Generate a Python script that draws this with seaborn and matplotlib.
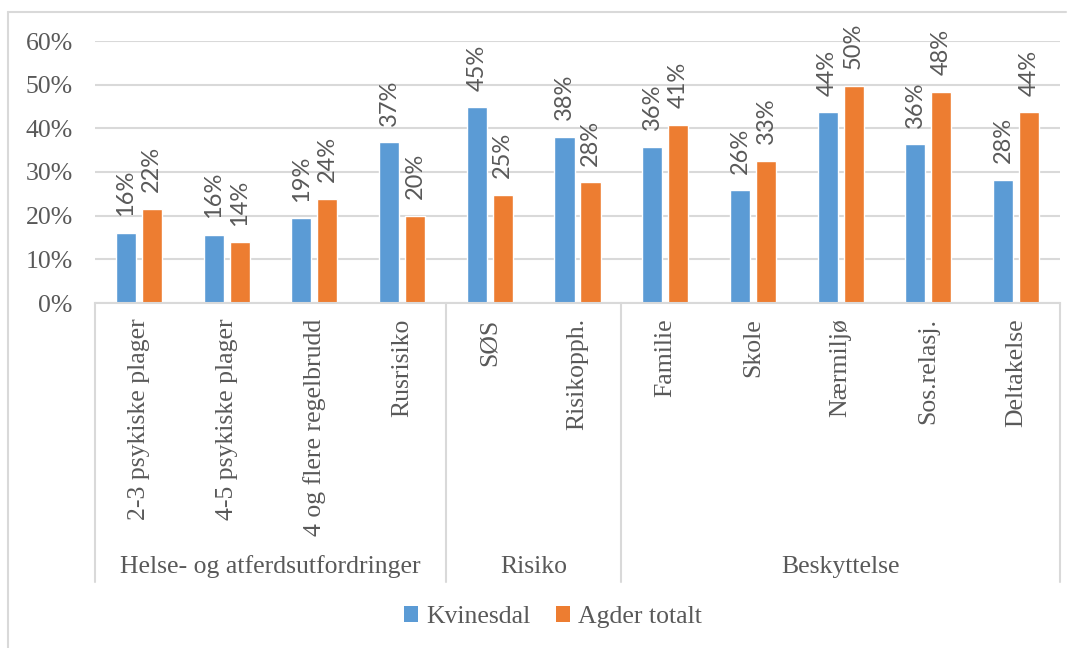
import matplotlib
matplotlib.use("Agg")
import matplotlib.pyplot as plt
import matplotlib.ticker as mticker
from matplotlib.lines import Line2D
from matplotlib.patches import Patch
import seaborn as sns
import pandas as pd

categories = ["2-3 psykiske plager", "4-5 psykiske plager", "4 og flere regelbrudd", "Rusrisiko",
              "SØS", "Risikopph.",
              "Familie", "Skole", "Nærmiljø", "Sos.relasj.", "Deltakelse"]
groups = ["Helse- og atferdsutfordringer", "Risiko", "Beskyttelse"]
group_sizes = [4, 2, 5]
series = ["Kvinesdal", "Agder totalt"]
kvinesdal = [16.0, 15.6, 19.4, 36.8, 44.8, 38.1, 35.8, 25.8, 43.7, 36.3, 28.2]
agder = [21.5, 13.9, 23.9, 20.0, 24.8, 27.6, 40.8, 32.6, 49.7, 48.4, 43.7]
yticks = [0, 10, 20, 30, 40, 50, 60]

colors = ["#5B9BD5", "#ED7D31"]
text_color = "#595959"
line_color = "#D9D9D9"
FS = 18.5

df = pd.DataFrame({
    "category": categories * 2,
    "series": [series[0]] * len(categories) + [series[1]] * len(categories),
    "value": kvinesdal + agder,
})

sns.set_theme(style="white")
plt.rcParams["font.family"] = ["Liberation Serif", "DejaVu Serif"]

W, H = 1074, 648
fig = plt.figure(figsize=(W / 100, H / 100), dpi=100)
ax_l, ax_r, ax_t, ax_b = 95, 1060, 41, 303
ax = fig.add_axes([ax_l / W, 1 - ax_b / H, (ax_r - ax_l) / W, (ax_b - ax_t) / H])

sns.barplot(data=df, x="category", y="value", hue="series", order=categories,
            hue_order=series, palette=colors, width=0.593, gap=0.23,
            saturation=1, legend=False, ax=ax, errorbar=None)

ax.set_xlim(-0.5, len(categories) - 0.5)
ax.set_ylim(0, 60)
ax.set_yticks(yticks)
ax.yaxis.set_major_formatter(mticker.FuncFormatter(lambda v, p: f"{v:.0f}%"))
ax.grid(axis="y", color=line_color, linewidth=1.5)
ax.set_axisbelow(True)
for s in ["top", "right", "left"]:
    ax.spines[s].set_visible(False)
ax.spines["bottom"].set_color(line_color)
ax.spines["bottom"].set_linewidth(1.5)
ax.set_xlabel("")
ax.set_ylabel("")
ax.tick_params(axis="y", length=0, pad=16, labelsize=FS, labelcolor=text_color)
ax.tick_params(axis="x", length=0, pad=11, labelsize=FS, labelcolor=text_color)
ax.set_xticks(range(len(categories)))
ax.set_xticklabels(categories, rotation=90, va="top", ha="center")

for cont in ax.containers:
    ax.bar_label(cont, labels=[f"{v:.0f}%" for v in cont.datavalues], rotation=90,
                 padding=12, fontsize=17, color=text_color, family="Lato")

# multi-level category separators and group labels
def fx(px):
    return px / W

def fy(py):
    return 1 - py / H

cat_w = (ax_r - ax_l) / len(categories)
bounds = [0]
for g in group_sizes:
    bounds.append(bounds[-1] + g)
for b in bounds:
    x = ax_l + b * cat_w
    fig.add_artist(Line2D([fx(x), fx(x)], [fy(ax_b), fy(582)], color=line_color, lw=1.5))
for i, g in enumerate(groups):
    xc = ax_l + (bounds[i] + bounds[i + 1]) / 2 * cat_w
    fig.text(fx(xc), fy(567), g, ha="center", va="center", fontsize=FS, color=text_color)

# chart border (top and left)
fig.add_artist(Line2D([fx(8), fx(1066)], [fy(12), fy(12)], color=line_color, lw=1.5))
fig.add_artist(Line2D([fx(8), fx(8)], [fy(12), fy(648)], color=line_color, lw=1.5))

handles = [Patch(facecolor=c, edgecolor="none") for c in colors]
fig.legend(handles, series, loc="center", bbox_to_anchor=(fx(553), fy(617)), ncol=2,
           frameon=False, fontsize=FS, labelcolor=text_color, handlelength=0.55,
           handleheight=0.55, handletextpad=0.3, columnspacing=1.0)

fig.savefig("out.png", dpi=100)
